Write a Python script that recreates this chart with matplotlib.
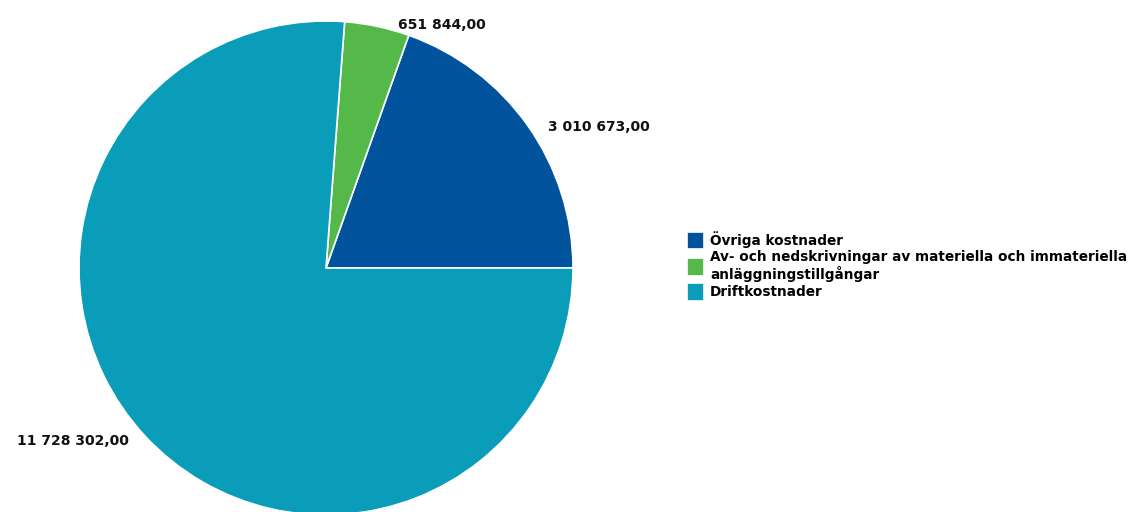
import matplotlib.pyplot as plt
import numpy as np

# Data
categories = [
    "Övriga kostnader",
    "Av- och nedskrivningar av materiella och immateriella\nanläggningstillgångar",
    "Driftkostnader",
]
values = [3010673.00, 651844.00, 11728302.00]
value_labels = ["3 010 673,00", "651 844,00", "11 728 302,00"]
colors = ["#00539C", "#54B948", "#0A9DB9"]

plt.rcParams['font.family'] = ['DejaVu Sans']

fig = plt.figure(figsize=(11.35, 5.12), dpi=100)
W, H = 1135, 512
cx, cy, r = 326, 268, 247  # pie centre and radius in pixels
ax = fig.add_axes([(cx - r) / W, (H - cy - r) / H, 2 * r / W, 2 * r / H])

wedges, texts = ax.pie(
    values, colors=colors, startangle=0, counterclock=True,
    labels=value_labels, labeldistance=1.08,
    wedgeprops=dict(edgecolor="white", linewidth=1.2),
    textprops=dict(fontsize=10, fontweight="bold", color="#111111"),
)
# place the value labels like the original
label_pos = [(0.90, 0.57, "left"), (0.29, 0.985, "left"), (-0.80, -0.70, "right")]
for t, (x, y, ha) in zip(texts, label_pos):
    t.set_position((x, y))
    t.set_ha(ha)
ax.set_xlim(-1, 1)
ax.set_ylim(-1, 1)
ax.set_aspect("equal")
ax.axis("off")

fig.legend(
    wedges, categories, loc="upper left",
    bbox_to_anchor=(687 / W, 1 - 231 / H),
    frameon=False, borderpad=0, borderaxespad=0,
    handlelength=1.25, handleheight=1.6, handletextpad=0.45,
    labelspacing=0.05,
    prop=dict(size=9.8, weight="bold"),
)

fig.savefig("out.png", dpi=100)
